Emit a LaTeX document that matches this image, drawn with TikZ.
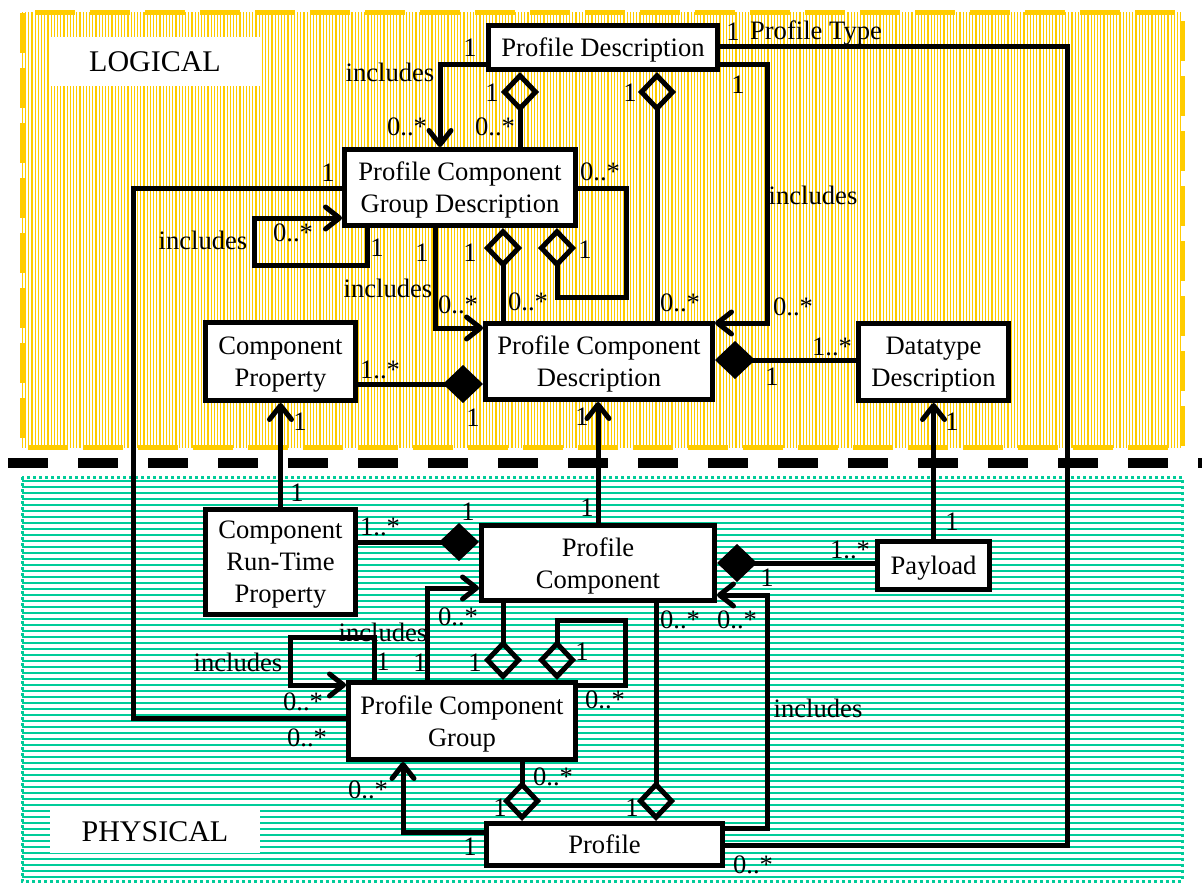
\documentclass[tikz,border=0pt]{standalone}
\usepackage{fontspec}
\setmainfont{Liberation Serif}
\usetikzlibrary{arrows.meta, patterns.meta}
\definecolor{LogicalYellow}{RGB}{255,204,0}
\definecolor{PhysicalGreen}{RGB}{0,204,153}
\tikzset{
  umlbox/.style={draw, line width=2.5pt, fill=white, align=center, inner sep=0pt,
    text depth=0pt, font=\fontsize{13.3}{16}\selectfont},
  mult/.style={inner sep=0pt, font=\fontsize{13.3}{16}\selectfont},
  assoc/.style={line width=2.5pt},
  nav/.style={assoc, -{Straight Barb[length=7pt,width=11pt,round]}},
  agg/.style={assoc, {Diamond[open,length=20pt,width=19pt]}-},
  comp/.style={assoc, {Diamond[length=20pt,width=19pt]}-},
}

\begin{document}
\begin{tikzpicture}[x=0.5pt, y=-0.5pt]
\useasboundingbox (0,0) rectangle (1202,883);
\fill[white] (0,0) rectangle (1202,883);

% the two layers
\path[pattern={Lines[angle=90,distance=1.6pt,line width=0.55pt]}, pattern color=LogicalYellow]
    (22,13) rectangle (1182,447);
\draw[LogicalYellow, line width=2.5pt, dash pattern=on 20pt off 7.5pt] (22,13) rectangle (1182,447);
\path[pattern={Lines[distance=3pt,line width=0.75pt]}, pattern color=PhysicalGreen]
    (22,477) rectangle (1182,881);
\draw[PhysicalGreen, line width=1.5pt, dash pattern=on 1.5pt off 1.5pt] (22,477) rectangle (1182,881);
\draw[line width=5pt, dash pattern=on 20pt off 15pt] (8,463) -- (1202,463);

\node[fill=white, minimum width=105pt, minimum height=24.5pt, font=\fontsize{15}{18}\selectfont]
    (logical) at (155,61.5) {LOGICAL};
\node[fill=white, minimum width=105pt, minimum height=21.5pt, font=\fontsize{15}{18}\selectfont]
    (physical) at (155,831.5) {PHYSICAL};

% classes
\node[umlbox, minimum width=114.5pt, minimum height=22pt] (PD) at (603,47.5) {Profile Description};
\node[umlbox, minimum width=115.5pt, minimum height=38pt] (PCGD) at (460,187.5) {Profile Component\\Group Description};
\node[umlbox, minimum width=75pt, minimum height=39pt] (CP) at (280.5,361.5) {Component\\Property};
\node[umlbox, minimum width=113.5pt, minimum height=38pt] (PCD) at (599,361.5) {Profile Component\\Description};
\node[umlbox, minimum width=75pt, minimum height=38.5pt] (DD) at (933.5,362) {Datatype\\Description};
\node[umlbox, minimum width=75pt, minimum height=52.5pt] (CRTP) at (280.5,562) {Component\\Run-Time\\Property};
\node[umlbox, minimum width=116.5pt, minimum height=37.5pt] (PC) at (598,563) {Profile\\Component};
\node[umlbox, minimum width=56pt, minimum height=24pt] (Payload) at (933.5,565.5) {Payload};
\node[umlbox, minimum width=113.5pt, minimum height=38.5pt] (PCG) at (462,721) {Profile Component\\Group};
\node[umlbox, minimum width=118pt, minimum height=21pt] (Profile) at (604.5,844.5) {Profile};

% logical associations
\draw[nav] (PD.west |- 0,65) -| (440,0 |- PCGD.north);
\draw[agg] (520,0 |- PD.south) -- (520,0 |- PCGD.north);
\draw[agg] (657,0 |- PD.south) -- (657,0 |- PCD.north);
\draw[nav] (PD.east |- 0,65) -| (767,323) -- (PCD.east |- 0,323);
\draw[assoc] (PD.east |- 0,47) -| (1067,845) -- (Profile.east |- 0,845);
\draw[assoc] (PCGD.west |- 0,188) -| (133,718) -- (PCG.west |- 0,718);
\draw[nav] (367,0 |- PCGD.south) |- (254,265) |- (PCGD.west |- 0,218);
\draw[nav] (435,0 |- PCGD.south) |- (PCD.west |- 0,328);
\draw[agg] (503,0 |- PCGD.south) -- (503,0 |- PCD.north);
\draw[agg] (557,0 |- PCGD.south) |- (626,297) |- (PCGD.east |- 0,188);
\draw[comp] (PCD.west |- 0,384) -- (CP.east |- 0,384);
\draw[comp] (PCD.east |- 0,360) -- (DD.west |- 0,360);

% between the layers
\draw[nav] (CRTP.north) -- (CP.south);
\draw[nav] (598,0 |- PC.north) -- (598,0 |- PCD.south);
\draw[nav] (Payload.north) -- (DD.south);

% physical associations
\draw[comp] (PC.west |- 0,542) -- (CRTP.east |- 0,542);
\draw[comp] (PC.east |- 0,563) -- (Payload.west |- 0,563);
\draw[nav] (427,0 |- PCG.north) |- (PC.west |- 0,588);
\draw[nav] (374,0 |- PCG.north) |- (290,637) |- (PCG.west |- 0,685);
\draw[agg] (503,0 |- PCG.north) -- (503,0 |- PC.south);
\draw[agg] (557,0 |- PCG.north) |- (625,620) |- (PCG.east |- 0,685);
\draw[agg] (656,0 |- Profile.north) -- (656,0 |- PC.south);
\draw[nav] (Profile.east |- 0,828) -| (767,595) -- (PC.east |- 0,595);
\draw[agg] (522,0 |- Profile.north) -- (522,0 |- PCG.south);
\draw[nav] (Profile.west |- 0,832) -| (403,0 |- PCG.south);

% association names
\foreach \mx/\my/\txt [count=\i] in {390/72/includes, 816/33/Profile Type, 813/195/includes,
    203/240/includes, 388/288/includes, 383/632/includes, 238/662/includes, 818/708/includes}
  \node[mult] (role\i) at (\mx,\my) {\txt};

% multiplicities
\foreach \mx/\my/\txt [count=\i] in {470/48/1, 407/127/0..*, 492/93/1, 495/127/0..*, 630/93/1,
    733/32/1, 738/85/1, 680/303/0..*, 793/307/0..*, 328/173/1, 600/172/0..*, 293/233/0..*,
    377/248/1, 422/253/1, 470/253/1, 585/250/1, 458/305/0..*, 528/302/0..*, 380/370/1..*,
    473/418/1, 582/417/1, 832/347/1..*, 772/377/1, 300/422/1, 952/422/1,
    297/493/1, 380/527/1..*, 468/512/1, 587/508/1, 952/522/1, 850/550/1..*, 767/578/1,
    458/617/0..*, 383/662/1, 420/663/1, 475/663/1, 582/652/1, 303/702/0..*, 307/738/0..*,
    605/700/0..*, 680/620/0..*, 737/620/0..*, 553/777/0..*, 500/808/1, 632/808/1,
    753/865/0..*, 368/790/0..*, 470/847/1}
  \node[mult] (mult\i) at (\mx,\my) {\txt};
\end{tikzpicture}
\end{document}
